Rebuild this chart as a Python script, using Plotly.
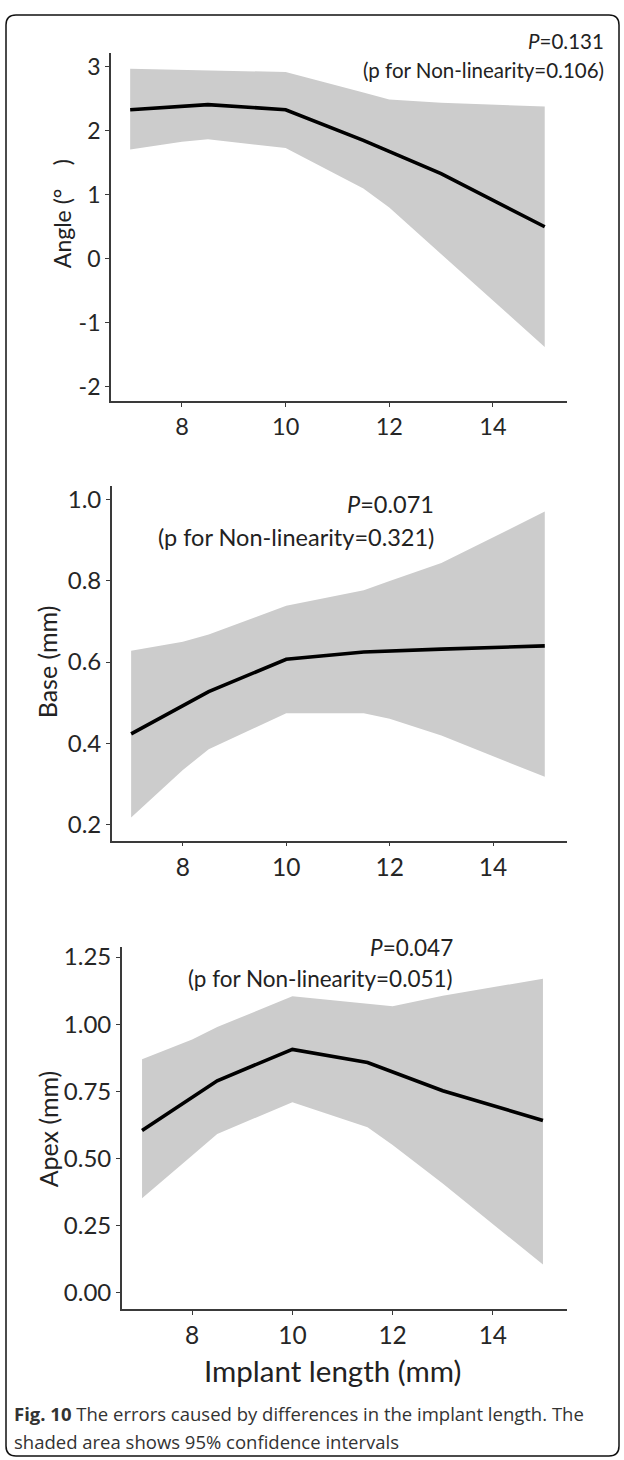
import plotly.graph_objects as go

# ---------------- data ----------------
line_x = [7, 8.5, 10, 11.5, 13, 15]
band_x = [7, 8, 8.5, 10, 11.5, 12, 13, 15]

angle_fit = [2.33, 2.41, 2.33, 1.85, 1.33, 0.50]
angle_lo = [1.71, 1.83, 1.87, 1.73, 1.10, 0.80, 0.07, -1.38]
angle_hi = [2.97, 2.95, 2.94, 2.92, 2.60, 2.49, 2.44, 2.38]

base_fit = [0.423, 0.527, 0.607, 0.625, 0.632, 0.640]
base_lo = [0.217, 0.334, 0.385, 0.474, 0.474, 0.460, 0.419, 0.317]
base_hi = [0.628, 0.650, 0.668, 0.739, 0.777, 0.800, 0.844, 0.971]

apex_fit = [0.604, 0.789, 0.906, 0.857, 0.752, 0.641]
apex_lo = [0.351, 0.511, 0.591, 0.709, 0.616, 0.550, 0.406, 0.104]
apex_hi = [0.869, 0.943, 0.989, 1.104, 1.076, 1.067, 1.106, 1.169]

x_ticks = [8, 10, 12, 14]
angle_ticks = [-2, -1, 0, 1, 2, 3]
angle_ticktext = ["-2", "-1", "0", "1", "2", "3"]
base_ticks = [0.2, 0.4, 0.6, 0.8, 1.0]
base_ticktext = ["0.2", "0.4", "0.6", "0.8", "1.0"]
apex_ticks = [0.0, 0.25, 0.5, 0.75, 1.0, 1.25]
apex_ticktext = ["0.00", "0.25", "0.50", "0.75", "1.00", "1.25"]

p_labels = ["<i>P</i>=0.131", "<i>P</i>=0.071", "<i>P</i>=0.047"]
nl_labels = ["(p for Non-linearity=0.106)", "(p for Non-linearity=0.321)",
             "(p for Non-linearity=0.051)"]
y_titles = ["Angle (°    )", "Base (mm)", "Apex (mm)"]
x_title = "Implant length (mm)"
caption1 = "<b>Fig. 10</b> The errors caused by differences in the implant length. The"
caption2 = "shaded area shows 95% confidence intervals"

# ---------------- layout helpers ----------------
W, H = 624, 1460
def px(x):
    return x / W
def py(y):
    return 1 - y / H

FONT = "Lato"
AX = "#3a3a3a"
BAND = "#cccccc"

fig = go.Figure()

panels = [
    dict(fit=angle_fit, lo=angle_lo, hi=angle_hi, xa="x", ya="y"),
    dict(fit=base_fit, lo=base_lo, hi=base_hi, xa="x2", ya="y2"),
    dict(fit=apex_fit, lo=apex_lo, hi=apex_hi, xa="x3", ya="y3"),
]
for p in panels:
    fig.add_trace(go.Scatter(
        x=band_x + band_x[::-1], y=p["hi"] + p["lo"][::-1],
        fill="toself", fillcolor=BAND, mode="lines",
        line=dict(width=0, color=BAND), hoverinfo="skip",
        xaxis=p["xa"], yaxis=p["ya"], showlegend=False))
    fig.add_trace(go.Scatter(
        x=line_x, y=p["fit"], mode="lines",
        line=dict(color="black", width=3.6),
        xaxis=p["xa"], yaxis=p["ya"], showlegend=False))

def xax(dom, rng, anchor, size):
    return dict(domain=dom, range=rng, anchor=anchor, showgrid=False,
                zeroline=False, showline=True, linecolor=AX, linewidth=1.8,
                ticks="outside", ticklen=4, tickwidth=1.2, tickcolor=AX,
                tickvals=x_ticks, ticktext=[str(v) for v in x_ticks],
                tickfont=dict(family=FONT, size=size, color="#262626"))

def yax(dom, rng, anchor, vals, text, size):
    return dict(domain=dom, range=rng, anchor=anchor, showgrid=False,
                zeroline=False, showline=True, linecolor=AX, linewidth=1.8,
                ticks="outside", ticklen=4, tickwidth=1.2, tickcolor=AX,
                tickvals=vals, ticktext=text,
                tickfont=dict(family=FONT, size=size, color="#262626"))

fig.update_layout(
    width=W, height=H, margin=dict(l=0, r=0, t=0, b=0),
    paper_bgcolor="white", plot_bgcolor="white", showlegend=False,
    xaxis=xax([px(111), px(567)], [6.63, 15.43], "y", 23.5),
    yaxis=yax([py(397), py(47)], [-2.23, 3.22], "x", angle_ticks, angle_ticktext, 23),
    xaxis2=xax([px(112), px(567)], [6.63, 15.43], "y2", 24.5),
    yaxis2=yax([py(838), py(482)], [0.16, 1.034], "x2", base_ticks, base_ticktext, 24),
    xaxis3=xax([px(122), px(567)], [6.6, 15.48], "y3", 24.5),
    yaxis3=yax([py(1308), py(945)], [-0.06, 1.287], "x3", apex_ticks, apex_ticktext, 24),
)

ann = []
def add_text(text, x, y, size, xanchor="center", angle=0, family=FONT, color="#222222"):
    ann.append(dict(text=text, x=px(x), y=py(y), xref="paper", yref="paper",
                    xanchor=xanchor, yanchor="middle", showarrow=False,
                    textangle=angle, font=dict(family=family, size=size, color=color)))

# p-value annotations
add_text(p_labels[0], 606, 35, 20.5, "right")
add_text(nl_labels[0], 606, 64, 20.5, "right")
add_text(p_labels[1], 436, 500, 23.5, "right")
add_text(nl_labels[1], 436, 533, 23.5, "right")
add_text(p_labels[2], 455, 945, 22.5, "right")
add_text(nl_labels[2], 455, 977, 22.5, "right")

# axis titles
add_text(y_titles[0], 62, 208, 23, angle=-90)
add_text(y_titles[1], 47, 659, 25, angle=-90)
add_text(y_titles[2], 48, 1128, 25, angle=-90)
add_text(x_title, 332, 1370, 29.5)

# caption
add_text(caption1, 12, 1413, 18.5, "left", family="Open Sans", color="#333333")
add_text(caption2, 12, 1441, 18.5, "left", family="Open Sans", color="#333333")

fig.update_layout(annotations=ann)

# rounded frame
l, r, t, b, rad = 6, 619, 9, 1456, 10
path = (f"M {px(l+rad)} {py(t)} L {px(r-rad)} {py(t)} Q {px(r)} {py(t)} {px(r)} {py(t+rad)} "
        f"L {px(r)} {py(b-rad)} Q {px(r)} {py(b)} {px(r-rad)} {py(b)} "
        f"L {px(l+rad)} {py(b)} Q {px(l)} {py(b)} {px(l)} {py(b-rad)} "
        f"L {px(l)} {py(t+rad)} Q {px(l)} {py(t)} {px(l+rad)} {py(t)} Z")
fig.add_shape(type="path", path=path, xref="paper", yref="paper",
              line=dict(color="#111111", width=1.5), fillcolor="rgba(0,0,0,0)")

fig.write_html("out.html")
